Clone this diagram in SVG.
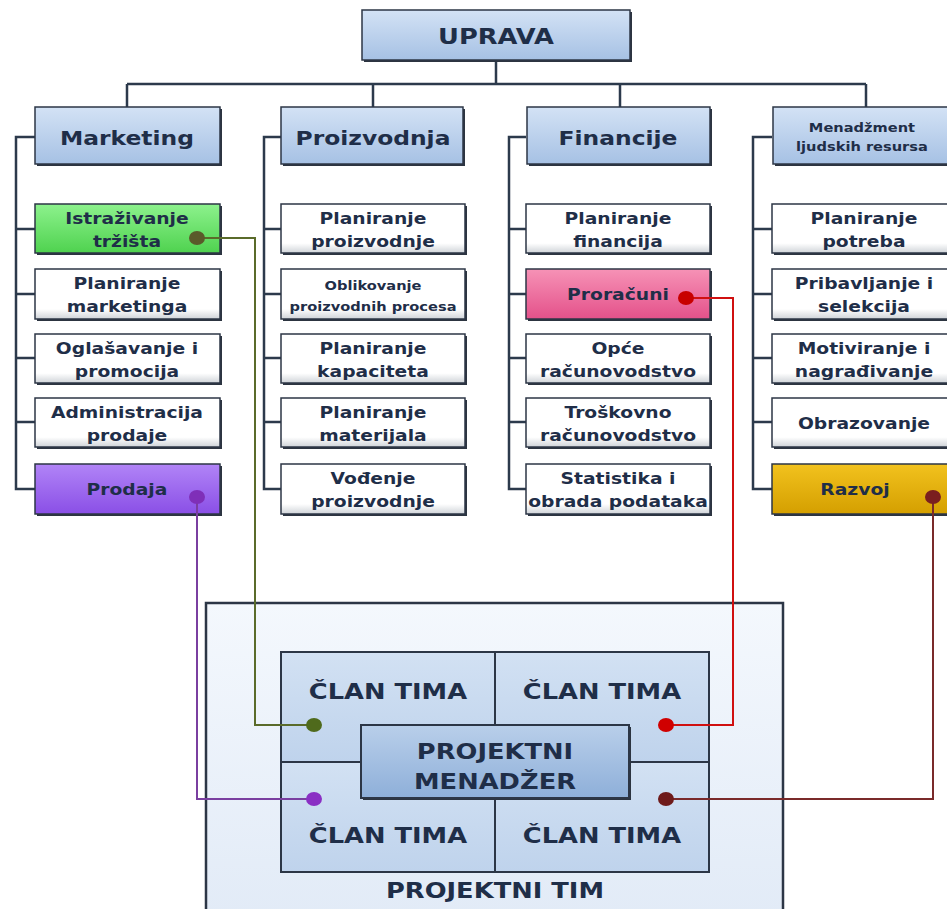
<svg xmlns="http://www.w3.org/2000/svg" width="947" height="909" viewBox="0 0 947 909">
<defs>
<linearGradient id="gBlue" x1="0" y1="0" x2="0" y2="1"><stop offset="0" stop-color="#d3e2f5"/><stop offset="1" stop-color="#a6c1e4"/></linearGradient>
<linearGradient id="gWhite" x1="0" y1="0" x2="0" y2="1"><stop offset="0" stop-color="#ffffff"/><stop offset="0.8" stop-color="#ffffff"/><stop offset="1" stop-color="#cfd3d8"/></linearGradient>
<linearGradient id="gGreen" x1="0" y1="0" x2="0" y2="1"><stop offset="0" stop-color="#8df28d"/><stop offset="1" stop-color="#4fd24f"/></linearGradient>
<linearGradient id="gPurple" x1="0" y1="0" x2="0" y2="1"><stop offset="0" stop-color="#b184f7"/><stop offset="1" stop-color="#8a4fe6"/></linearGradient>
<linearGradient id="gPink" x1="0" y1="0" x2="0" y2="1"><stop offset="0" stop-color="#f692b6"/><stop offset="1" stop-color="#e4518a"/></linearGradient>
<linearGradient id="gGold" x1="0" y1="0" x2="0" y2="1"><stop offset="0" stop-color="#f2c21e"/><stop offset="1" stop-color="#d49f00"/></linearGradient>
<linearGradient id="gCell" x1="0" y1="0" x2="0" y2="1"><stop offset="0" stop-color="#d2e1f3"/><stop offset="1" stop-color="#bfd3ec"/></linearGradient>
<linearGradient id="gMgr" x1="0" y1="0" x2="0" y2="1"><stop offset="0" stop-color="#b9cfea"/><stop offset="1" stop-color="#8eafd9"/></linearGradient>
<linearGradient id="gTeam" x1="0" y1="0" x2="0" y2="1"><stop offset="0" stop-color="#f4f8fd"/><stop offset="1" stop-color="#e2ebf7"/></linearGradient>
</defs>
<style>
.sh{fill:#2c3440}
.bx{stroke:#2c3646;stroke-width:1.5}
.t{font-family:"DejaVu Sans","Liberation Sans",sans-serif;font-weight:bold;fill:#1f2e48;text-anchor:middle;transform-box:fill-box;transform-origin:center;transform:scaleX(1.17)}
.s{font-size:16px}
.h{font-size:20px}
.b{font-size:22px}
.tree{fill:none;stroke:#2c3a4c;stroke-width:2.5}
.ln{fill:none;stroke-width:2}
</style>
<g id="connectors">
<path class="tree" d="M496 60V84M127 84H866M127 84V107M373 84V107M620 84V107M866 84V107"/>
<path class="tree" d="M35 137H16V489H35M16 229H35M16 294H35M16 358H35M16 422H35"/>
<path class="tree" d="M281 137H264V489H281M264 229H281M264 294H281M264 358H281M264 422H281"/>
<path class="tree" d="M526 137H509V489H526M509 229H526M509 294H526M509 358H526M509 422H526"/>
<path class="tree" d="M772 137H753V489H772M753 229H772M753 294H772M753 358H772M753 422H772"/>
</g>
<g id="uprava"><rect class="sh" x="364" y="12" width="268" height="50"/><rect class="bx" x="362" y="10" width="268" height="50" fill="url(#gBlue)"/><text class="t b" x="496" y="44">UPRAVA</text></g>
<g id="marketing"><rect class="sh" x="37" y="109" width="185" height="57"/><rect class="bx" x="35" y="107" width="185" height="57" fill="url(#gBlue)"/><text class="t h" x="127" y="145">Marketing</text></g>
<g id="proizvodnja"><rect class="sh" x="283" y="109" width="182" height="57"/><rect class="bx" x="281" y="107" width="182" height="57" fill="url(#gBlue)"/><text class="t h" x="373" y="145">Proizvodnja</text></g>
<g id="financije"><rect class="sh" x="529" y="109" width="183" height="57"/><rect class="bx" x="527" y="107" width="183" height="57" fill="url(#gBlue)"/><text class="t h" x="618" y="145">Financije</text></g>
<g id="menadzment"><rect class="sh" x="775" y="109" width="185" height="57"/><rect class="bx" x="773" y="107" width="185" height="57" fill="url(#gBlue)"/><text class="t" style="font-size:12.5px" x="862" y="132">Menadžment</text><text class="t" style="font-size:12.5px" x="862" y="151">ljudskih resursa</text></g>

<g id="istrazivanje"><rect class="sh" x="37" y="206" width="185" height="49"/><rect class="bx" x="35" y="204" width="185" height="49" fill="url(#gGreen)"/><text class="t s" x="127" y="224">Istraživanje</text><text class="t s" x="127" y="247">tržišta</text></g>
<g id="planiranje-marketinga"><rect class="sh" x="37" y="271" width="185" height="50"/><rect class="bx" x="35" y="269" width="185" height="50" fill="url(#gWhite)"/><text class="t s" x="127" y="289">Planiranje</text><text class="t s" x="127" y="312">marketinga</text></g>
<g id="oglasavanje"><rect class="sh" x="37" y="336" width="185" height="49"/><rect class="bx" x="35" y="334" width="185" height="49" fill="url(#gWhite)"/><text class="t s" x="127" y="354">Oglašavanje i</text><text class="t s" x="127" y="377">promocija</text></g>
<g id="administracija"><rect class="sh" x="37" y="400" width="185" height="49"/><rect class="bx" x="35" y="398" width="185" height="49" fill="url(#gWhite)"/><text class="t s" x="127" y="418">Administracija</text><text class="t s" x="127" y="441">prodaje</text></g>
<g id="prodaja"><rect class="sh" x="37" y="466" width="185" height="50"/><rect class="bx" x="35" y="464" width="185" height="50" fill="url(#gPurple)"/><text class="t s" x="127" y="495">Prodaja</text></g>

<g id="planiranje-proizvodnje"><rect class="sh" x="283" y="206" width="184" height="49"/><rect class="bx" x="281" y="204" width="184" height="49" fill="url(#gWhite)"/><text class="t s" x="373" y="224">Planiranje</text><text class="t s" x="373" y="247">proizvodnje</text></g>
<g id="oblikovanje"><rect class="sh" x="283" y="271" width="184" height="50"/><rect class="bx" x="281" y="269" width="184" height="50" fill="url(#gWhite)"/><text class="t" style="font-size:12.5px" x="373" y="290">Oblikovanje</text><text class="t" style="font-size:12.5px" x="373" y="311">proizvodnih procesa</text></g>
<g id="planiranje-kapaciteta"><rect class="sh" x="283" y="336" width="184" height="49"/><rect class="bx" x="281" y="334" width="184" height="49" fill="url(#gWhite)"/><text class="t s" x="373" y="354">Planiranje</text><text class="t s" x="373" y="377">kapaciteta</text></g>
<g id="planiranje-materijala"><rect class="sh" x="283" y="400" width="184" height="49"/><rect class="bx" x="281" y="398" width="184" height="49" fill="url(#gWhite)"/><text class="t s" x="373" y="418">Planiranje</text><text class="t s" x="373" y="441">materijala</text></g>
<g id="vodenje"><rect class="sh" x="283" y="466" width="184" height="50"/><rect class="bx" x="281" y="464" width="184" height="50" fill="url(#gWhite)"/><text class="t s" x="373" y="484">Vođenje</text><text class="t s" x="373" y="507">proizvodnje</text></g>

<g id="planiranje-financija"><rect class="sh" x="528" y="206" width="184" height="49"/><rect class="bx" x="526" y="204" width="184" height="49" fill="url(#gWhite)"/><text class="t s" x="618" y="224">Planiranje</text><text class="t s" x="618" y="247">financija</text></g>
<g id="proracuni"><rect class="sh" x="528" y="271" width="184" height="50"/><rect class="bx" x="526" y="269" width="184" height="50" fill="url(#gPink)"/><text class="t s" x="618" y="300">Proračuni</text></g>
<g id="opce"><rect class="sh" x="528" y="336" width="184" height="49"/><rect class="bx" x="526" y="334" width="184" height="49" fill="url(#gWhite)"/><text class="t s" x="618" y="354">Opće</text><text class="t s" x="618" y="377">računovodstvo</text></g>
<g id="troskovno"><rect class="sh" x="528" y="400" width="184" height="49"/><rect class="bx" x="526" y="398" width="184" height="49" fill="url(#gWhite)"/><text class="t s" x="618" y="418">Troškovno</text><text class="t s" x="618" y="441">računovodstvo</text></g>
<g id="statistika"><rect class="sh" x="528" y="466" width="184" height="50"/><rect class="bx" x="526" y="464" width="184" height="50" fill="url(#gWhite)"/><text class="t s" x="618" y="484">Statistika i</text><text class="t s" x="618" y="507">obrada podataka</text></g>

<g id="planiranje-potreba"><rect class="sh" x="774" y="206" width="185" height="49"/><rect class="bx" x="772" y="204" width="185" height="49" fill="url(#gWhite)"/><text class="t s" x="864" y="224">Planiranje</text><text class="t s" x="864" y="247">potreba</text></g>
<g id="pribavljanje"><rect class="sh" x="774" y="271" width="185" height="50"/><rect class="bx" x="772" y="269" width="185" height="50" fill="url(#gWhite)"/><text class="t s" x="864" y="289">Pribavljanje i</text><text class="t s" x="864" y="312">selekcija</text></g>
<g id="motiviranje"><rect class="sh" x="774" y="336" width="185" height="49"/><rect class="bx" x="772" y="334" width="185" height="49" fill="url(#gWhite)"/><text class="t s" x="864" y="354">Motiviranje i</text><text class="t s" x="864" y="377">nagrađivanje</text></g>
<g id="obrazovanje"><rect class="sh" x="774" y="400" width="185" height="49"/><rect class="bx" x="772" y="398" width="185" height="49" fill="url(#gWhite)"/><text class="t s" x="864" y="429">Obrazovanje</text></g>
<g id="razvoj"><rect class="sh" x="774" y="466" width="185" height="50"/><rect class="bx" x="772" y="464" width="185" height="50" fill="url(#gGold)"/><text class="t s" x="855" y="495">Razvoj</text></g>

<g id="projektni-tim">
<rect x="206" y="603" width="577" height="310" fill="url(#gTeam)" stroke="#2c3646" stroke-width="2.5"/>
<text class="t b" x="495" y="898">PROJEKTNI TIM</text>
</g>
<g id="clan-1"><rect x="281" y="652" width="214" height="110" fill="url(#gCell)" stroke="#2c3646" stroke-width="2"/><text class="t b" x="388" y="699">ČLAN TIMA</text></g>
<g id="clan-2"><rect x="495" y="652" width="214" height="110" fill="url(#gCell)" stroke="#2c3646" stroke-width="2"/><text class="t b" x="602" y="699">ČLAN TIMA</text></g>
<g id="clan-3"><rect x="281" y="762" width="214" height="110" fill="url(#gCell)" stroke="#2c3646" stroke-width="2"/><text class="t b" x="388" y="843">ČLAN TIMA</text></g>
<g id="clan-4"><rect x="495" y="762" width="214" height="110" fill="url(#gCell)" stroke="#2c3646" stroke-width="2"/><text class="t b" x="602" y="843">ČLAN TIMA</text></g>
<g id="projektni-menadzer"><rect class="sh" x="363" y="727" width="268" height="73"/><rect x="361" y="725" width="268" height="73" fill="url(#gMgr)" stroke="#2c3646" stroke-width="2"/><text class="t b" x="495" y="759">PROJEKTNI</text><text class="t b" x="495" y="789">MENADŽER</text></g>

<g id="links">
<path class="ln" stroke="#5a6b2a" d="M197 238H255V725H314"/>
<path class="ln" stroke="#d01010" d="M686 298H733V725H666"/>
<path class="ln" stroke="#7a3fa0" d="M197 497V799H314"/>
<path class="ln" stroke="#7a2a2a" d="M933 497V799H666"/>
<ellipse cx="197" cy="238" rx="8" ry="7" fill="#5a5a2a"/>
<ellipse cx="686" cy="298" rx="8" ry="7" fill="#c80000"/>
<ellipse cx="197" cy="497" rx="8" ry="7" fill="#7f2fb8"/>
<ellipse cx="933" cy="497" rx="8" ry="7" fill="#7a1f1f"/>
<ellipse cx="314" cy="725" rx="8" ry="7" fill="#4f6a1c"/>
<ellipse cx="666" cy="725" rx="8" ry="7" fill="#d00000"/>
<ellipse cx="314" cy="799" rx="8" ry="7" fill="#8a2fc4"/>
<ellipse cx="666" cy="799" rx="8" ry="7" fill="#6e1a1a"/>
</g>
</svg>
